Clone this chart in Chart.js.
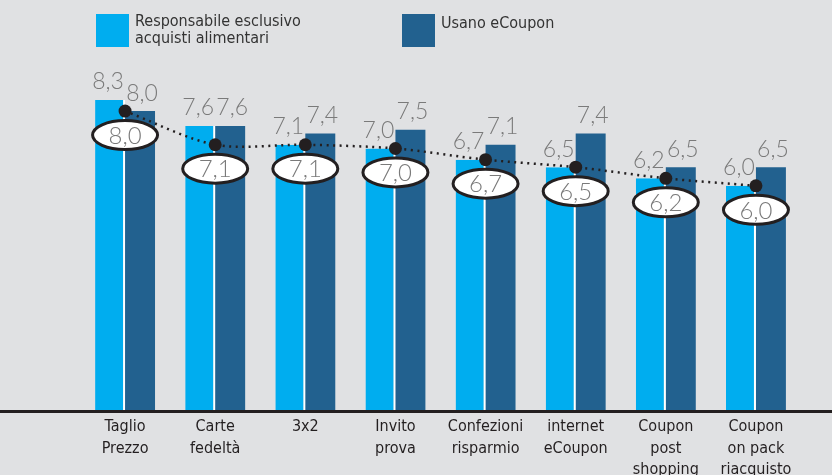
<!DOCTYPE html>
<html>
<head>
<meta charset="utf-8">
<script src="https://cdn.jsdelivr.net/npm/chart.js@4"></script>
<style>
  html, body { margin: 0; padding: 0; background: #e0e1e3; }
  #wrap { width: 832px; height: 475px; position: relative; }
</style>
</head>
<body>
<div id="wrap"><canvas id="bar-chartcanvas"></canvas></div>
<script>
// categories and values
var categories = [
    ["Taglio", "Prezzo"], ["Carte", "fedeltà"], ["3x2"], ["Invito", "prova"],
    ["Confezioni", "risparmio"], ["internet", "eCoupon"],
    ["Coupon", "post", "shopping"], ["Coupon", "on pack", "riacquisto"]
];
var responsabili = [8.3, 7.6, 7.1, 7.0, 6.7, 6.5, 6.2, 6.0];
var eCoupon = [8.0, 7.6, 7.4, 7.5, 7.1, 7.4, 6.5, 6.5];
var media = [8.0, 7.1, 7.1, 7.0, 6.7, 6.5, 6.2, 6.0];
var seriesNames = [["Responsabile esclusivo", "acquisti alimentari"], ["Usano eCoupon"]];

var lightBlue = "#00adef";
var darkBlue = "#22618f";
var narrow = '"DejaVu Sans Condensed", "Liberation Sans Narrow", sans-serif';

function fmt(v) {
    return v.toFixed(1).replace(".", ",");
}

//draws legend, axis line, value labels and ellipses
var decorations = {
    id: "decorations",
    afterDatasetsDraw: function(chart) {
        var ctx = chart.ctx;
        ctx.save();

        // legend
        ctx.fillStyle = lightBlue;
        ctx.fillRect(96, 14, 33, 33);
        ctx.fillStyle = darkBlue;
        ctx.fillRect(402, 14, 33, 33);
        ctx.fillStyle = "#333";
        ctx.font = "16px " + narrow;
        ctx.textAlign = "left";
        ctx.textBaseline = "middle";
        ctx.fillText(seriesNames[0][0], 135, 22);
        ctx.fillText(seriesNames[0][1], 135, 39);
        ctx.fillText(seriesNames[1][0], 441, 24);

        // axis line across the whole width
        var yBase = chart.scales.y.getPixelForValue(0);
        ctx.fillStyle = "#231f20";
        ctx.fillRect(0, yBase, chart.width, 3);

        // bar value labels
        ctx.font = "300 23px Lato, sans-serif";
        ctx.fillStyle = "#7a7a7a";
        ctx.textAlign = "center";
        [0, 1].forEach(function(d) {
            var meta = chart.getDatasetMeta(d);
            var vals = chart.data.datasets[d].data;
            meta.data.forEach(function(bar, i) {
                var dx = d === 0 ? -2 : 2;
                ctx.fillText(fmt(vals[i]), bar.x + dx, bar.y - 18);
            });
        });

        // ellipses under the line points
        var lineMeta = chart.getDatasetMeta(2);
        ctx.font = "300 24px Lato, sans-serif";
        lineMeta.data.forEach(function(pt, i) {
            var cx = pt.x, cy = pt.y + 24;
            ctx.beginPath();
            ctx.ellipse(cx, cy, 32.5, 14.5, 0, 0, Math.PI * 2);
            ctx.fillStyle = "#ffffff";
            ctx.fill();
            ctx.lineWidth = 3;
            ctx.strokeStyle = "#231f20";
            ctx.stroke();
            ctx.fillStyle = "#7a7a7a";
            ctx.fillText(fmt(media[i]), cx, cy + 1);
        });
        ctx.restore();
    }
};

var ctx = document.getElementById("bar-chartcanvas");

var data = {
    labels: categories,
    datasets: [
        {
            type: "bar",
            label: seriesNames[0].join(" "),
            data: responsabili,
            backgroundColor: lightBlue,
            borderColor: "#ffffff",
            borderWidth: { right: 2, left: 0, top: 0, bottom: 0 },
            borderSkipped: false,
            categoryPercentage: 0.665,
            barPercentage: 1,
            order: 2
        },
        {
            type: "bar",
            label: seriesNames[1][0],
            data: eCoupon,
            backgroundColor: darkBlue,
            borderWidth: 0,
            categoryPercentage: 0.665,
            barPercentage: 1,
            order: 2
        },
        {
            type: "line",
            label: "media",
            data: media,
            borderColor: "#231f20",
            borderWidth: 2.5,
            borderDash: [2, 4.5],
            tension: 0.3,
            fill: false,
            pointRadius: 6.5,
            pointBackgroundColor: "#231f20",
            pointBorderWidth: 0,
            order: 1
        }
    ]
};

var options = {
    responsive: true,
    maintainAspectRatio: false,
    animation: false,
    layout: { padding: { left: 80, right: 31, top: 0, bottom: 0 } },
    plugins: {
        legend: { display: false },
        tooltip: { enabled: false }
    },
    scales: {
        x: {
            grid: { display: false, drawTicks: false },
            border: { display: false },
            ticks: {
                color: "#231f20",
                font: { family: narrow, size: 16, lineHeight: 1.35 },
                padding: 6,
                maxRotation: 0,
                autoSkip: false
            },
            afterFit: function(scale) { scale.height = 65; }
        },
        y: {
            display: false,
            min: 0,
            max: 10.8
        }
    }
};

var chart = new Chart(ctx, {
    data: data,
    options: options,
    plugins: [decorations]
});
</script>
</body>
</html>
